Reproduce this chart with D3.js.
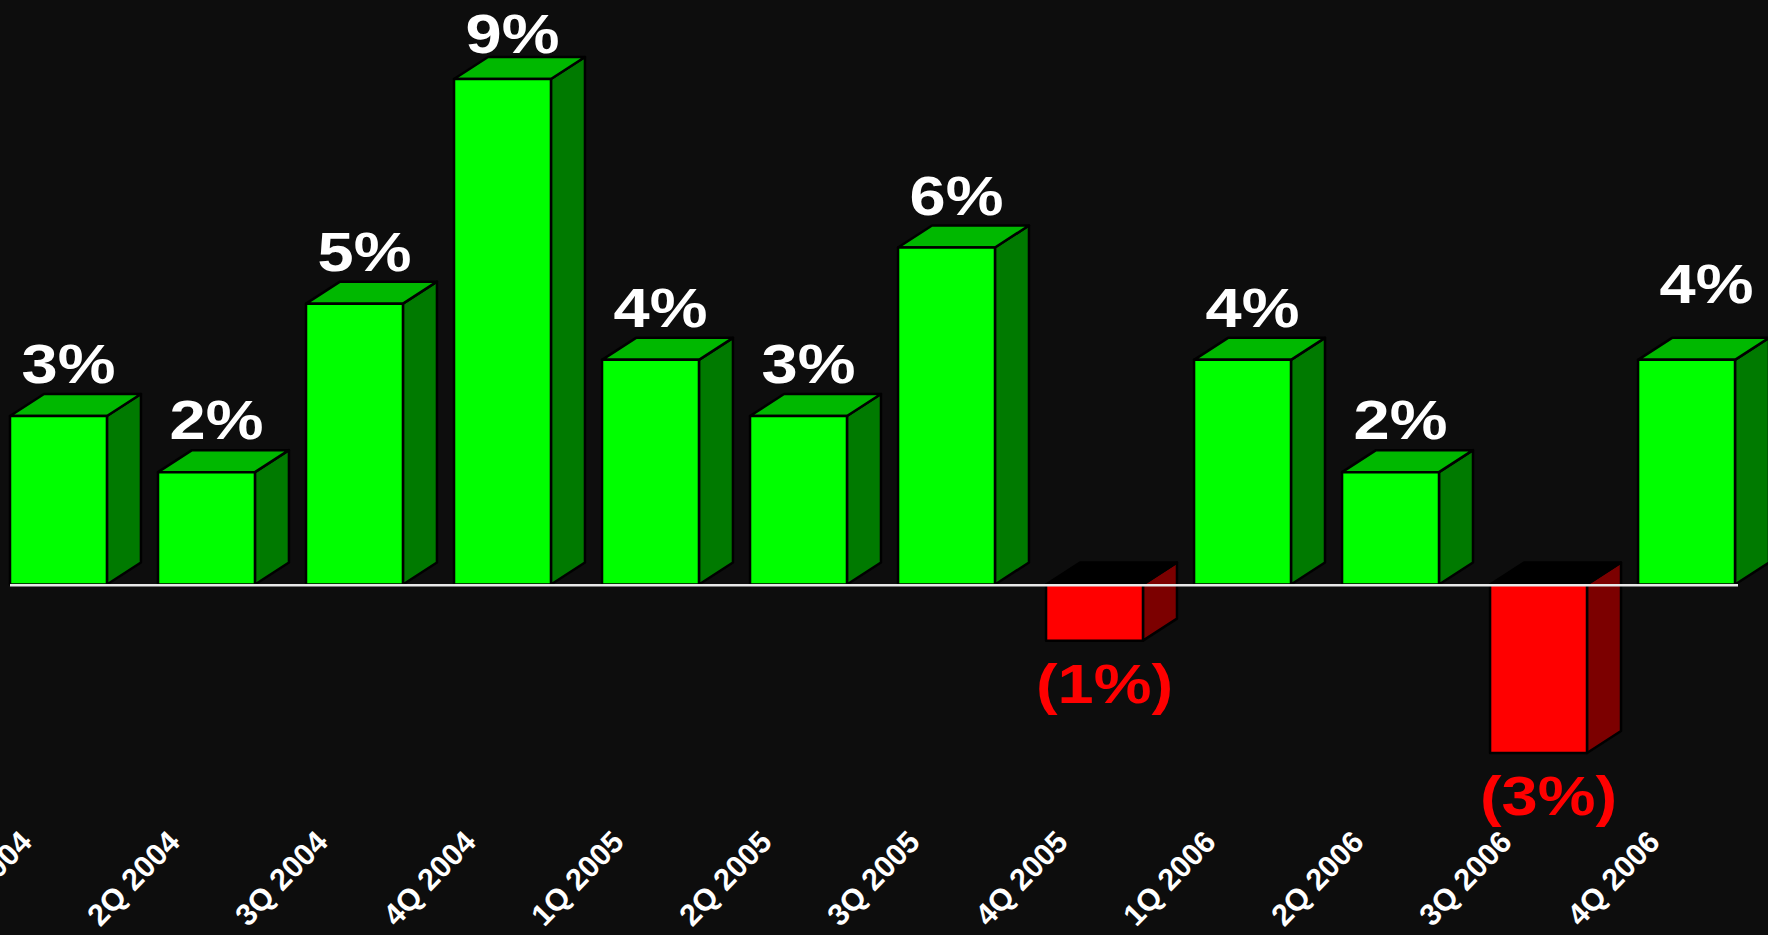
<!DOCTYPE html>
<html>
<head>
<meta charset="utf-8">
<script src="https://cdn.jsdelivr.net/npm/d3@7"></script>
<style>
  html, body { margin: 0; padding: 0; background: #0d0d0d; overflow: hidden; }
  svg { display: block; }
  text { font-family: "Liberation Sans", Arial, sans-serif; font-weight: bold; }
</style>
</head>
<body>
<svg id="chart" width="1768" height="935"></svg>
<script>
// Quarterly growth, percent
const quarters = ["1Q 2004", "2Q 2004", "3Q 2004", "4Q 2004",
                  "1Q 2005", "2Q 2005", "3Q 2005", "4Q 2005",
                  "1Q 2006", "2Q 2006", "3Q 2006", "4Q 2006"];
const growth = [3, 2, 5, 9, 4, 3, 6, -1, 4, 2, -3, 4];

const W = 1768, H = 935;
const svg = d3.select("#chart");
svg.append("rect").attr("width", W).attr("height", H).attr("fill", "#0d0d0d");

const x = d3.scaleBand().domain(quarters).range([10, 1735])
  .paddingInner(0.345).paddingOuter(0);
const y = d3.scaleLinear().domain([-3, 9]).range([753, 79]);

const bw = x.bandwidth();
const dx = 34, dy = 22;   // depth of the 3D extrusion

const pal = {
  pos: { front: "#00ff00", top: "#00b800", side: "#007a00" },
  neg: { front: "#ff0000", top: "#000000", side: "#7c0000" }
};

const data = quarters.map((q, i) => ({ q, v: growth[i] }));

const bars = svg.append("g").selectAll("g").data(data).join("g");

bars.each(function (d) {
  const g = d3.select(this);
  const c = d.v >= 0 ? pal.pos : pal.neg;
  const x0 = x(d.q), x1 = x0 + bw;
  const yTop = Math.min(y(d.v), y(0));
  const yBot = Math.max(y(d.v), y(0));
  const face = sel => sel.attr("stroke", "#000").attr("stroke-width", 2.5)
    .attr("stroke-linejoin", "round");

  // side face
  g.append("path")
    .attr("d", `M${x1},${yTop}L${x1 + dx},${yTop - dy}L${x1 + dx},${yBot - dy}L${x1},${yBot}Z`)
    .attr("fill", c.side).call(face);
  // top face
  g.append("path")
    .attr("d", `M${x0},${yTop}L${x0 + dx},${yTop - dy}L${x1 + dx},${yTop - dy}L${x1},${yTop}Z`)
    .attr("fill", c.top).call(face);
  // front face
  g.append("rect")
    .attr("x", x0).attr("y", yTop).attr("width", bw).attr("height", yBot - yTop)
    .attr("fill", c.front).call(face);
});

// zero line
svg.append("line")
  .attr("x1", 10).attr("x2", 1738)
  .attr("y1", y(0) + 0.8).attr("y2", y(0) + 0.8)
  .attr("stroke", "#e8e8e8").attr("stroke-width", 2.5);

// value labels
const labelNudge = { "4Q 2004": [0, 7], "4Q 2006": [10, -24] };
svg.append("g").selectAll("text").data(data).join("text")
  .attr("transform", d => {
    const n = labelNudge[d.q] || [0, 0];
    const cx = x(d.q) + bw / 2 + 10 + n[0];
    const cy = d.v >= 0 ? y(d.v) - 33 + n[1] : y(d.v) + 62;
    return `translate(${cx},${cy}) scale(1.16,1)`;
  })
  .attr("text-anchor", "middle")
  .attr("font-size", 56)
  .attr("fill", d => d.v >= 0 ? "#ffffff" : "#ff0000")
  .text(d => d.v >= 0 ? `${d.v}%` : `(${Math.abs(d.v)}%)`);

// category axis
const axis = svg.append("g")
  .attr("transform", `translate(0,${y(0) + 259})`)
  .call(d3.axisBottom(x).tickSize(0));
axis.select(".domain").remove();
axis.selectAll("text")
  .attr("x", 0).attr("y", 0).attr("dy", 0)
  .attr("transform", "translate(-25,0) rotate(-46)")
  .attr("text-anchor", "end")
  .attr("fill", "#ffffff")
  .attr("font-size", 30.5)
  .attr("font-family", "'Liberation Sans', Arial, sans-serif")
  .attr("font-weight", "bold");
</script>
</body>
</html>
